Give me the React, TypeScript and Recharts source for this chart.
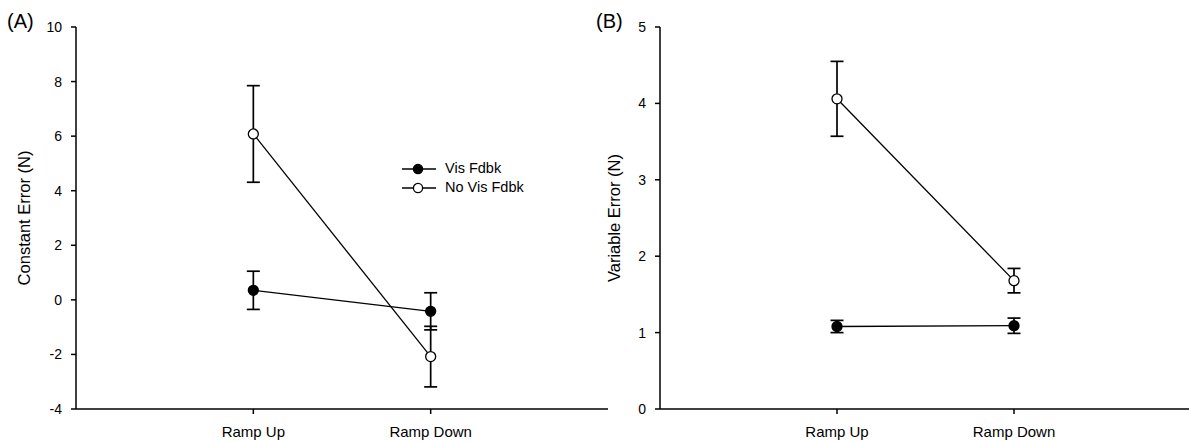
import { ErrorBar, Legend, Line, LineChart, XAxis, YAxis } from 'recharts';

const FONT = '"Liberation Sans", Arial, sans-serif';

const categories = ['Ramp Up', 'Ramp Down'];
const xPositions = [1, 2];

// (A) constant error
const constVis = [0.35, -0.42];
const constVisErr = [0.7, 0.68];
const constNoVis = [6.08, -2.08];
const constNoVisErr = [1.77, 1.11];
const constTicks = [-4, -2, 0, 2, 4, 6, 8, 10];

// (B) variable error
const varVis = [1.08, 1.09];
const varVisErr = [0.08, 0.1];
const varNoVis = [4.06, 1.68];
const varNoVisErr = [0.49, 0.16];
const varTicks = [0, 1, 2, 3, 4, 5];

const seriesNames = ['Vis Fdbk', 'No Vis Fdbk'];
const seriesFills = ['#000', '#fff'];

function buildRows(vis: number[], visErr: number[], noVis: number[], noVisErr: number[]) {
  return xPositions.map((x, i) => ({
    x,
    vis: vis[i],
    visErr: visErr[i],
    noVis: noVis[i],
    noVisErr: noVisErr[i],
  }));
}

const yTickStyle = { fill: '#000', fontSize: 14, fontFamily: FONT };
const xTickStyle = { fill: '#000', fontSize: 15, fontFamily: FONT };
const axisStroke = { stroke: '#000', strokeWidth: 1.5 };

function LegendBox() {
  return (
    <div style={{ fontFamily: FONT, fontSize: 14.5, color: '#000', lineHeight: '19px' }}>
      {seriesNames.map((name, i) => (
        <div key={name} style={{ display: 'flex', alignItems: 'center', height: 19 }}>
          <svg width={36} height={14} style={{ marginRight: 8 }}>
            <line x1={1} y1={7} x2={35} y2={7} stroke="#000" strokeWidth={1.3} />
            <circle cx={17} cy={7} r={4.6} fill={seriesFills[i]} stroke="#000" strokeWidth={1.3} />
          </svg>
          <span>{name}</span>
        </div>
      ))}
    </div>
  );
}

function Panel({
  rows,
  domain,
  ticks,
  width,
  yAxisWidth,
  marginLeft,
  marginRight,
  legend,
}: {
  rows: ReturnType<typeof buildRows>;
  domain: [number, number];
  ticks: number[];
  width: number;
  yAxisWidth: number;
  marginLeft: number;
  marginRight: number;
  legend?: boolean;
}) {
  return (
    <LineChart
      width={width}
      height={441}
      data={rows}
      margin={{ top: 27, right: marginRight, bottom: 2, left: marginLeft }}
    >
      <XAxis
        dataKey="x"
        type="number"
        domain={[0, 3]}
        ticks={xPositions}
        tickFormatter={(v) => categories[Number(v) - 1] ?? ''}
        tick={xTickStyle}
        tickSize={5}
        tickMargin={12}
        axisLine={axisStroke}
        tickLine={axisStroke}
        height={30}
      />
      <YAxis
        type="number"
        domain={domain}
        ticks={ticks}
        tick={yTickStyle}
        tickSize={5}
        tickMargin={9}
        axisLine={axisStroke}
        tickLine={axisStroke}
        width={yAxisWidth}
        allowDataOverflow
      />
      {legend ? (
        <Legend
          layout="vertical"
          align="center"
          verticalAlign="middle"
          content={() => <LegendBox />}
          wrapperStyle={{ left: 401, top: 159, width: 'auto' }}
        />
      ) : null}
      <Line
        dataKey="vis"
        name={seriesNames[0]}
        stroke="#000"
        strokeWidth={1.3}
        dot={{ r: 5, fill: seriesFills[0], stroke: '#000', strokeWidth: 1.3 }}
        isAnimationActive={false}
      >
        <ErrorBar dataKey="visErr" direction="y" width={6.5} stroke="#000" strokeWidth={1.7} />
      </Line>
      <Line
        dataKey="noVis"
        name={seriesNames[1]}
        stroke="#000"
        strokeWidth={1.3}
        dot={{ r: 5, fill: seriesFills[1], stroke: '#000', strokeWidth: 1.3 }}
        isAnimationActive={false}
      >
        <ErrorBar dataKey="noVisErr" direction="y" width={6.5} stroke="#000" strokeWidth={1.7} />
      </Line>
    </LineChart>
  );
}

export default function App() {
  const rowsA = buildRows(constVis, constVisErr, constNoVis, constNoVisErr);
  const rowsB = buildRows(varVis, varVisErr, varNoVis, varNoVisErr);

  return (
    <div
      style={{
        position: 'absolute',
        left: 0,
        top: 0,
        width: 1189,
        height: 441,
        overflow: 'hidden',
        background: '#fff',
      }}
    >
      <div style={{ position: 'absolute', left: 0, top: 0 }}>
        <Panel
          rows={rowsA}
          domain={[-4, 10]}
          ticks={constTicks}
          width={620}
          yAxisWidth={50}
          marginLeft={26}
          marginRight={12}
          legend
        />
      </div>
      <div style={{ position: 'absolute', left: 600, top: 0 }}>
        <Panel
          rows={rowsB}
          domain={[0, 5]}
          ticks={varTicks}
          width={591}
          yAxisWidth={40}
          marginLeft={20}
          marginRight={0}
        />
      </div>
      <svg
        width={1189}
        height={441}
        style={{ position: 'absolute', left: 0, top: 0, pointerEvents: 'none' }}
        fontFamily={FONT}
        fill="#000"
      >
        <text x={7} y={28} fontSize={20}>(A)</text>
        <text x={596} y={28} fontSize={20}>(B)</text>
        <text transform="translate(30,218) rotate(-90)" textAnchor="middle" fontSize={16.5}>
          Constant Error (N)
        </text>
        <text transform="translate(620,218) rotate(-90)" textAnchor="middle" fontSize={16.5}>
          Variable Error (N)
        </text>
      </svg>
    </div>
  );
}
